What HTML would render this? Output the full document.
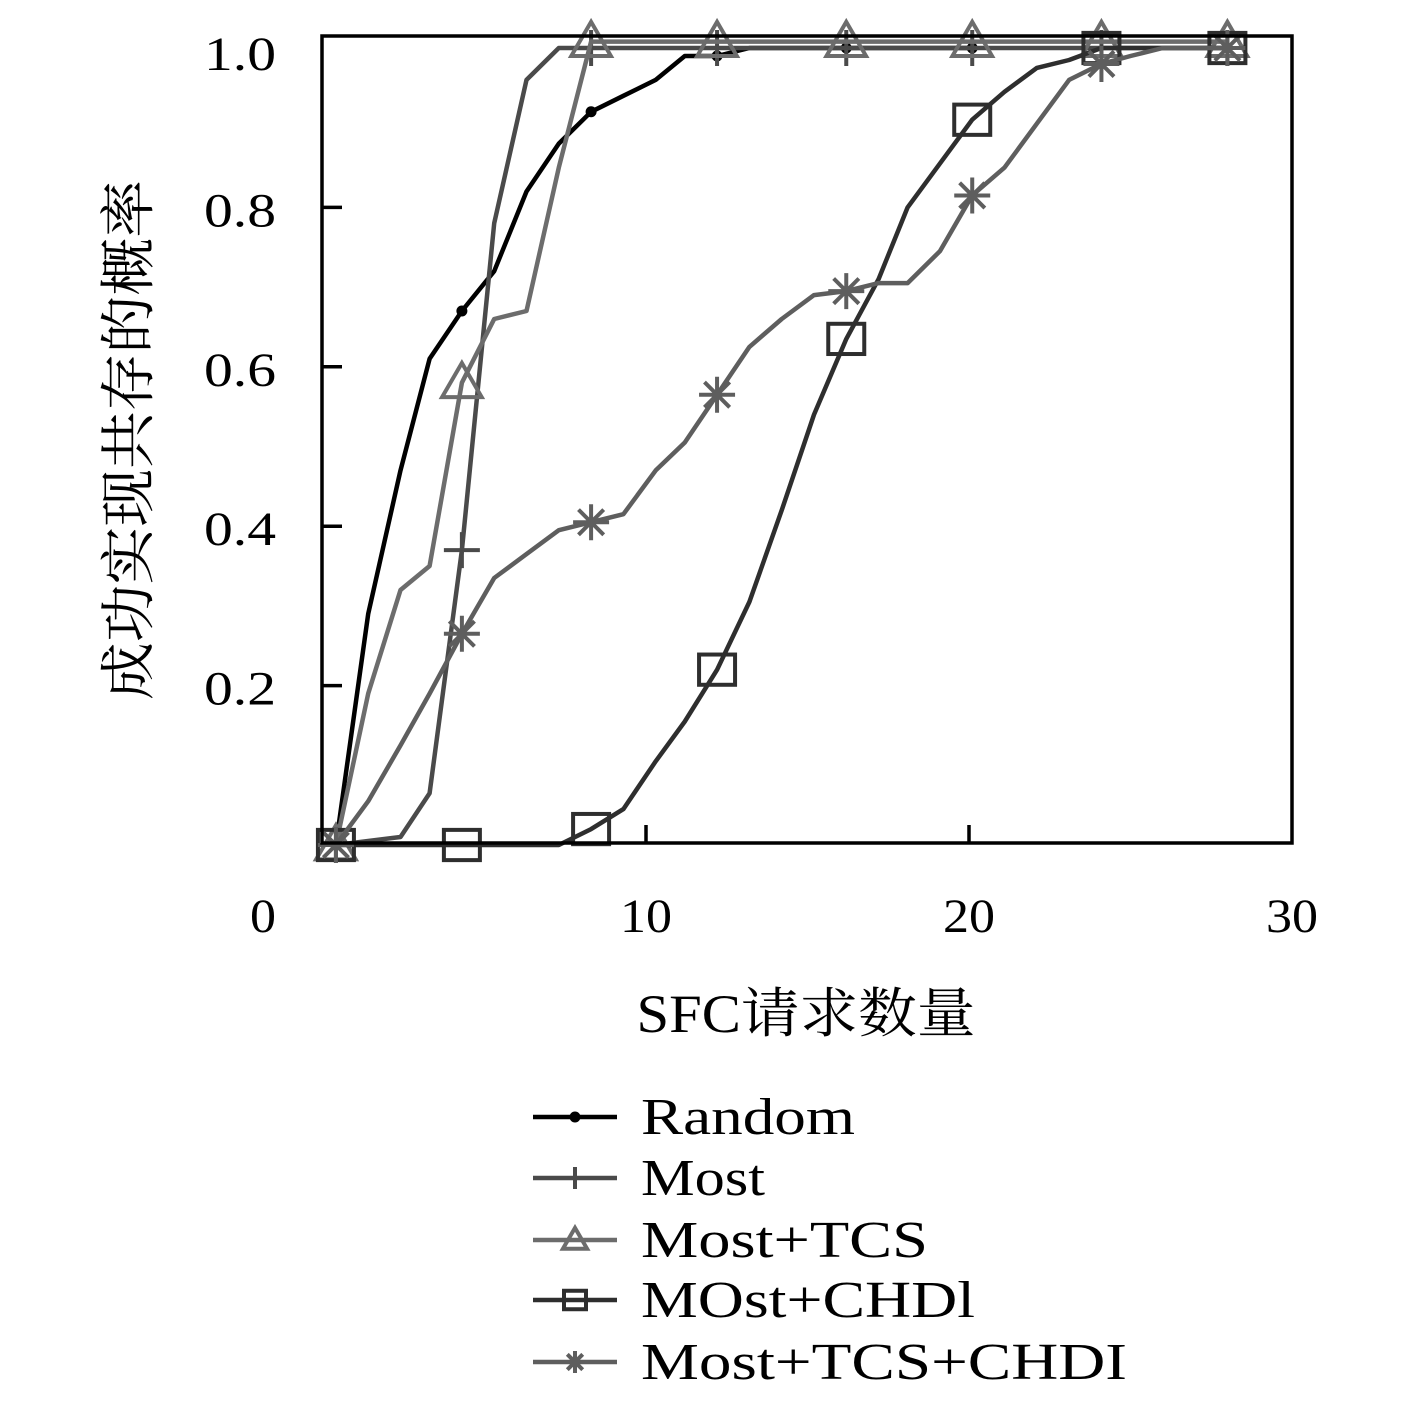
<!DOCTYPE html>
<html><head><meta charset="utf-8"><style>
html,body{margin:0;padding:0;background:#fff;}
svg{display:block;}
text{font-family:"Liberation Serif","Noto Serif CJK SC",serif;fill:#000;}
</style></head><body>
<svg id="chart" width="1417" height="1406" viewBox="0 0 1417 1406" xmlns="http://www.w3.org/2000/svg">
<g id="plot"></g>
</svg>
<script>
const xs = [0.4,1.4,2.4,3.3,4.3,5.3,6.3,7.3,8.3,9.3,10.3,11.2,12.2,13.2,14.2,15.2,16.2,17.2,18.1,19.1,20.1,21.1,22.1,23.1,24.1,25.0,26.0,27.0,28.0];
const randomVals = [0,0.29,0.47,0.61,0.67,0.72,0.82,0.88,0.92,0.94,0.96,0.99,0.99,1,1,1,1,1,1,1,1];
const mostVals = [0,0.005,0.01,0.065,0.37,0.78,0.96,1,1,1,1,1,1,1,1,1,1,1,1,1,1,1,1,1,1,1,1,1,1];
const tcsVals = [0,0.19,0.32,0.35,0.58,0.66,0.67,0.85,1.008,1.008,1.008,1.008,1.008,1.008,1.008,1.008,1.008,1.008,1.008,1.008,1.008,1.008,1.008,1.008,1.008,1.008,1.008,1.008,1.008];
const chdiVals = [0,0,0,0,0,0,0,0,0.02,0.045,0.105,0.155,0.22,0.305,0.42,0.54,0.635,0.71,0.8,0.855,0.91,0.945,0.975,0.985,1,1,1,1,1];
const tcsChdiVals = [0,0.055,0.125,0.19,0.265,0.335,0.365,0.395,0.405,0.415,0.47,0.505,0.565,0.625,0.66,0.69,0.695,0.705,0.705,0.745,0.815,0.85,0.905,0.96,0.98,0.99,1,1,1];
const xTicks = [0,10,20,30];
const xTickLabels = ["0","10","20","30"];
const yTicks = [0.2,0.4,0.6,0.8,1.0];
const yTickLabels = ["0.2","0.4","0.6","0.8","1.0"];
const seriesNames = ["Random","Most","Most+TCS","MOst+CHDl","Most+TCS+CHDI"];

const NS="http://www.w3.org/2000/svg";
const X = v => 323 + v*32.3;
const Y = v => 845 - v*797;
const svg=document.getElementById('chart');
function mk(tag, attrs, parent){const e=document.createElementNS(NS,tag);for(const k in attrs)e.setAttribute(k,attrs[k]);(parent||svg).appendChild(e);return e;}

const box=mk('rect',{x:322,y:36,width:970,height:807,fill:'none',stroke:'#000','stroke-width':3.5});



yTicks.forEach((t,i)=>{
  if(t<1){const tk=mk('line',{x1:322,x2:342,y1:Y(t),y2:Y(t),stroke:'#000','stroke-width':3.5});
  
  }
  const lb=mk('text',{x:276,y:Y(t)+(t==1?6:3)+16,'font-size':48,'text-anchor':'end',textLength:72,lengthAdjust:'spacingAndGlyphs'});
  lb.textContent=yTickLabels[i];
  
  
});
xTicks.forEach((t,i)=>{
  if(t>0&&t<30){const tk=mk('line',{x1:X(t),x2:X(t),y1:843,y2:825,stroke:'#000','stroke-width':3.5});
  
  }
  const lx = t===0 ? 263 : X(t);
  const lb=mk('text',{x:lx,y:932,'font-size':48,'text-anchor':'middle',textLength:t===0?26:52,lengthAdjust:'spacingAndGlyphs'});
  lb.textContent=xTickLabels[i];
  
  
});
const xt=mk('text',{x:806,y:1032,'font-size':54,'text-anchor':'middle',textLength:339,lengthAdjust:'spacingAndGlyphs'});
xt.textContent='SFC请求数量';


const yt=mk('text',{x:0,y:0,'font-size':56,'text-anchor':'middle',textLength:520,lengthAdjust:'spacingAndGlyphs',transform:'translate(148,440) rotate(-90)'});
yt.textContent='成功实现共存的概率';



function marker(type,cx,cy,s,col,parent){
  const g=mk('g',{},parent);
  const sw=4;
  if(type==='dot'){mk('circle',{cx,cy,r:s,fill:col},g);}
  else if(type==='plus'){mk('path',{d:`M${cx-s/2} ${cy}H${cx+s/2}M${cx} ${cy-s/2}V${cy+s/2}`,stroke:col,'stroke-width':sw,fill:'none'},g);}
  else if(type==='tri'){mk('path',{d:`M${cx} ${cy-s*0.55}L${cx+s*0.55} ${cy+s*0.4}L${cx-s*0.55} ${cy+s*0.4}Z`,stroke:col,'stroke-width':sw,fill:'none'},g);}
  else if(type==='sq'){mk('rect',{x:cx-s*0.5,y:cy-s*0.42,width:s,height:s*0.84,stroke:col,'stroke-width':sw,fill:'none'},g);}
  else if(type==='star'){const r=s/2,d=r*0.7;mk('path',{d:`M${cx-r} ${cy}H${cx+r}M${cx} ${cy-r}V${cy+r}M${cx-d} ${cy-d}L${cx+d} ${cy+d}M${cx-d} ${cy+d}L${cx+d} ${cy-d}`,stroke:col,'stroke-width':sw,fill:'none'},g);}
  return g;
}
const series=[
 {vals:randomVals,col:'#000',m:'dot',name:'random'},
 {vals:mostVals,col:'#4a4a4a',m:'plus',name:'most'},
 {vals:tcsVals,col:'#6c6c6c',m:'tri',name:'most-tcs'},
 {vals:chdiVals,col:'#2e2e2e',m:'sq',name:'most-chdi'},
 {vals:tcsChdiVals,col:'#5e5e5e',m:'star',name:'most-tcs-chdi'}
];
const plot=document.getElementById('plot');
series.forEach(s=>{
  const g=mk('g',{},plot);
  
  
  const pts=s.vals.map((v,i)=>X(xs[i]).toFixed(1)+','+Y(v).toFixed(1)).join(' ');
  const pl=mk('polyline',{points:pts,fill:'none',stroke:s.col,'stroke-width':4.5,'stroke-linejoin':'round'},g);
  
  
  s.vals.forEach((v,i)=>{ if(i%4===0){
    const mm=marker(s.m,X(xs[i]),Y(v),s.m==='dot'?5.5:36,s.col,g);
    
    
  }});
});
const lg=mk('g',{});


const rowsY=[1117,1178,1240,1300,1362];
const legendLens=[214,124,287,334,486];
series.forEach((s,i)=>{
  const e=mk('g',{},lg);
  
  
  mk('line',{x1:533,x2:617,y1:rowsY[i],y2:rowsY[i],stroke:s.col,'stroke-width':4.5},e);
  marker(s.m,575,rowsY[i],s.m==='dot'?5.5:22,s.col,e);
  const t=mk('text',{x:641,y:rowsY[i]+17,'font-size':52,textLength:legendLens[i],lengthAdjust:'spacingAndGlyphs'},e);
  t.textContent=seriesNames[i];
});
</script>
</body></html>
